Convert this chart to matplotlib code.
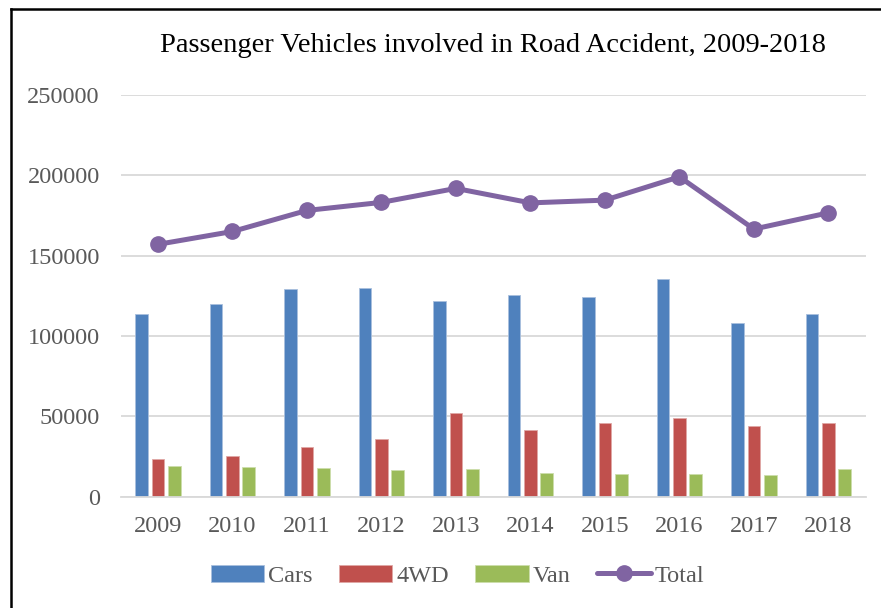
import matplotlib
matplotlib.use('Agg')
import matplotlib.pyplot as plt
from matplotlib.lines import Line2D
import numpy as np

plt.rcParams['font.family'] = ['Liberation Serif', 'DejaVu Serif']

years = ['2009', '2010', '2011', '2012', '2013',
         '2014', '2015', '2016', '2017', '2018']
cars = [113800, 120000, 129000, 130000, 121500,
        125600, 124000, 135400, 108000, 113400]
fwd = [23300, 25500, 30700, 35700, 52200,
       41300, 46000, 48900, 44200, 45700]
van = [18900, 18500, 17700, 16400, 17000,
       14700, 14300, 14300, 13300, 17000]
total = [157000, 165000, 178100, 183100, 191800,
         182800, 184500, 199000, 166500, 176600]

c_cars = '#4F81BD'
c_fwd = '#C0504D'
c_van = '#9BBB59'
c_total = '#8064A2'
c_text = '#595959'

fig = plt.figure(figsize=[8.81, 6.08], dpi=100)
ax = fig.add_axes([0.137, 0.183, 0.8455, 0.661])

x = np.arange(len(years))
w = 0.17
off = 0.22
b1 = ax.bar(x - off, cars, w, color=c_cars, edgecolor='#a9c0de',
            linewidth=0.6, label='Cars', zorder=2)
b2 = ax.bar(x, fwd, w, color=c_fwd, edgecolor='#e0a8a6', linewidth=0.6,
            label='4WD', zorder=2)
b3 = ax.bar(x + off, van, w, color=c_van, edgecolor='#cddeac', linewidth=0.6,
            label='Van', zorder=2)
l1, = ax.plot(x, total, color=c_total, linewidth=3.6, marker='o',
              markersize=11, label='Total', zorder=3, solid_capstyle='round')

ax.set_xlim(-0.5, len(years) - 0.5)
ax.set_ylim(0, 250000)
ax.set_yticks(np.arange(0, 250001, 50000))
ax.set_xticks(x)
ax.set_xticklabels(years)
ax.yaxis.grid(True, color='#d9d9d9', linewidth=1.3, zorder=0)
ax.set_axisbelow(True)
for s in ['top', 'right', 'left']:
    ax.spines[s].set_visible(False)
ax.spines['bottom'].set_color('#d9d9d9')
ax.spines['bottom'].set_linewidth(1.3)
ax.tick_params(axis='both', length=0, labelsize=17.5, colors=c_text)
ax.tick_params(axis='y', pad=15)
ax.tick_params(axis='x', pad=14)

ax.set_title('Passenger Vehicles involved in Road Accident, 2009-2018',
             fontsize=20.5, color='black', pad=31)

fig.legend([b1, b2, b3, l1], ['Cars', '4WD', 'Van', 'Total'],
           loc='center', bbox_to_anchor=(0.519, 0.053),
           ncol=4, frameon=False, fontsize=17.5, handlelength=2.2,
           handletextpad=0.15, columnspacing=1.1, labelcolor=c_text)

# outer frame (only top and left edges fall inside the picture)
fig.add_artist(Line2D([10.5 / 881, 10.5 / 881], [0, 1 - 8.5 / 608],
                      color='black', linewidth=1.8))
fig.add_artist(Line2D([10.5 / 881, 1], [1 - 8.5 / 608, 1 - 8.5 / 608],
                      color='black', linewidth=1.8))

fig.savefig('out.png', dpi=100)
plt.close('all')
